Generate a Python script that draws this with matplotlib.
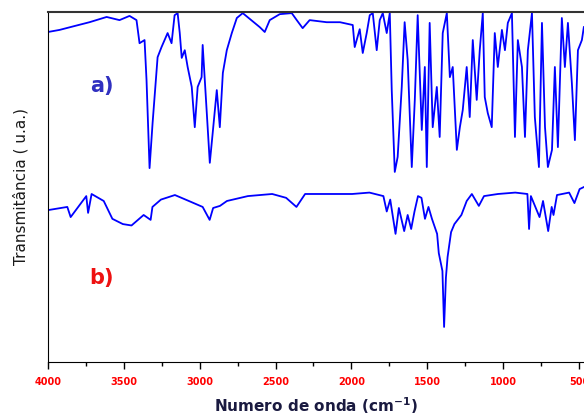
import matplotlib.pyplot as plt
from matplotlib.ticker import MultipleLocator

# espectro a) - numero de onda (cm-1) e transmitancia (u.a.)
wn_a = [4000, 3923, 3825, 3726, 3613, 3528, 3462, 3416, 3396, 3363, 3350, 3330,
        3310, 3297, 3277, 3251, 3211, 3185, 3165, 3145, 3131, 3118, 3098, 3079,
        3052, 3032, 3013, 2987, 2980, 2954, 2933, 2914, 2887, 2867, 2847, 2821,
        2788, 2755, 2716, 2604, 2571, 2538, 2472, 2393, 2360, 2321, 2275, 2163,
        2075, 1991, 1978, 1945, 1925, 1899, 1879, 1859, 1833, 1813, 1793, 1767,
        1747, 1734, 1714, 1695, 1668, 1649, 1629, 1602, 1582, 1563, 1536, 1516,
        1503, 1484, 1464, 1437, 1418, 1398, 1371, 1351, 1332, 1305, 1285, 1266,
        1240, 1220, 1200, 1174, 1154, 1134, 1121, 1101, 1075, 1055, 1035, 1008,
        988, 969, 942, 922, 903, 876, 856, 837, 810, 791, 764, 744, 724, 705,
        678, 659, 639, 613, 593, 573, 547, 527, 507, 481, 468]
t_a = [94.3, 94.9, 96.0, 97.1, 98.6, 97.7, 98.9, 97.7, 91.1, 92.0, 80.6, 55.4,
       68.3, 75.7, 87.1, 90.0, 94.0, 91.1, 99.1, 99.7, 94.0, 86.9, 89.1, 84.3,
       78.6, 67.1, 78.6, 81.4, 90.6, 72.0, 56.9, 65.4, 77.7, 67.1, 82.6, 89.1,
       94.0, 98.3, 99.7, 95.7, 94.3, 97.7, 99.4, 99.7, 97.7, 95.4, 97.7, 97.1,
       97.1, 96.3, 90.0, 95.1, 88.3, 94.0, 99.1, 99.7, 89.1, 97.7, 99.7, 94.0,
       99.7, 77.7, 54.3, 58.6, 78.6, 97.1, 86.3, 55.7, 74.9, 99.1, 66.3, 84.3,
       55.7, 96.9, 67.1, 78.6, 64.3, 94.0, 99.7, 81.4, 84.3, 60.6, 67.1, 72.0,
       84.3, 70.0, 92.0, 74.9, 89.1, 99.7, 75.7, 71.1, 67.1, 94.0, 84.3, 94.9,
       89.1, 96.9, 99.7, 64.3, 92.0, 84.3, 64.3, 89.1, 99.7, 70.0, 55.7, 96.9,
       67.1, 55.7, 60.6, 84.3, 61.4, 98.3, 84.3, 96.9, 79.7, 63.4, 89.1, 92.0,
       95.7]

# espectro b)
wn_b = [3998, 3872, 3850, 3747, 3735, 3712, 3632, 3575, 3506, 3449, 3369, 3323,
        3311, 3255, 3163, 3071, 2980, 2934, 2911, 2866, 2820, 2682, 2522, 2430,
        2362, 2305, 1995, 1881, 1789, 1767, 1744, 1709, 1687, 1652, 1629, 1606,
        1584, 1561, 1538, 1515, 1492, 1469, 1435, 1424, 1400, 1389, 1377, 1366,
        1343, 1321, 1275, 1240, 1206, 1160, 1126, 1034, 920, 840, 829, 817, 760,
        737, 703, 680, 668, 645, 565, 530, 496, 467]
t_b = [43.4, 44.3, 41.4, 47.4, 42.6, 48.0, 46.0, 40.9, 39.4, 39.0, 42.0, 40.6,
       44.3, 46.4, 47.7, 46.0, 44.3, 40.6, 44.0, 44.6, 46.0, 47.4, 48.0, 46.9,
       44.3, 48.0, 48.0, 48.4, 47.4, 43.0, 46.4, 36.6, 44.0, 37.4, 42.0, 38.0,
       43.0, 47.4, 46.9, 40.9, 44.3, 40.9, 36.6, 31.1, 26.0, 10.0, 24.1, 30.0,
       37.1, 39.4, 42.0, 46.0, 48.0, 44.6, 47.4, 48.0, 48.4, 48.0, 38.0, 47.4,
       41.4, 46.0, 37.4, 44.3, 42.0, 47.7, 48.4, 45.4, 49.4, 50.0]

fig = plt.figure(figsize=(5.84, 4.16), dpi=100)
ax = fig.add_axes([0.082, 0.13, 0.918, 0.841])

ax.plot(wn_a, t_a, color='#0000ff', lw=1.3)
ax.plot(wn_b, t_b, color='#0000ff', lw=1.3)

ax.set_xlim(4000, 467)
ax.set_ylim(0, 100)

ax.xaxis.set_major_locator(MultipleLocator(500))
ax.xaxis.set_minor_locator(MultipleLocator(250))
ax.tick_params(axis='x', which='major', direction='out', length=5, width=1,
               labelsize=7, labelcolor='red', pad=6)
ax.tick_params(axis='x', which='minor', direction='out', length=3, width=1)
for lbl in ax.get_xticklabels():
    lbl.set_fontweight('bold')
ax.set_yticks([])
ax.spines['right'].set_visible(False)
ax.spines['top'].set_linewidth(1.5)
ax.spines['top'].set_color('#333333')

ax.set_xlabel('Numero de onda (cm$^{\\mathbf{-1}}$)', fontsize=11, fontweight='bold',
              color='#1a1a40', labelpad=6)
ax.set_ylabel('Transmitância ( u.a.)', fontsize=11, color='#1a1a1a', labelpad=14)

ax.text(0.1, 0.79, 'a)', transform=ax.transAxes, fontsize=15, fontweight='bold',
        color='#3030c0', ha='center', va='center')
ax.text(0.1, 0.24, 'b)', transform=ax.transAxes, fontsize=15, fontweight='bold',
        color='#ee1111', ha='center', va='center')

fig.savefig('out.png', dpi=100)
